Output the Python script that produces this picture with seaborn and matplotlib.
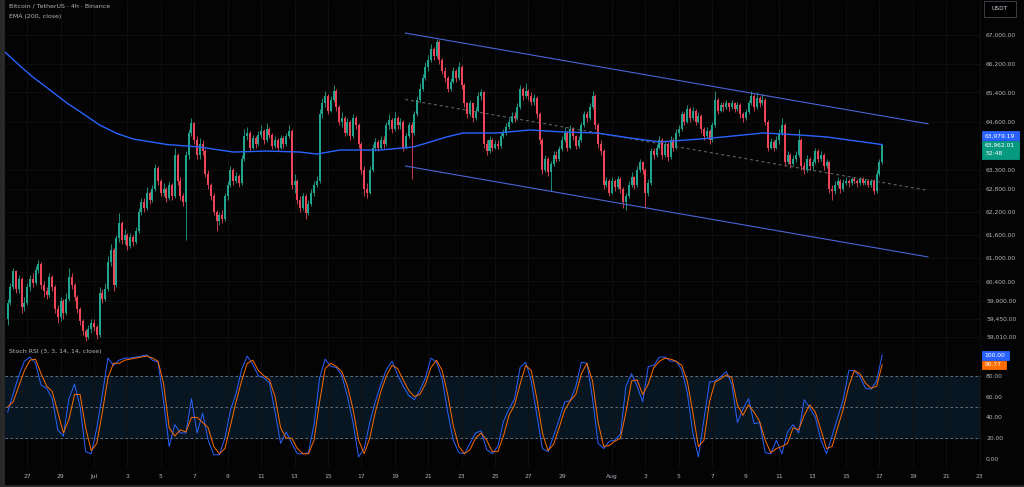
import numpy as np
import pandas as pd
import matplotlib
matplotlib.use("Agg")
import matplotlib.pyplot as plt
import matplotlib.dates as mdates
from matplotlib.ticker import FixedLocator, NullLocator, FuncFormatter
from matplotlib.patches import Rectangle
import seaborn as sns

# ---------------- data (BTC/USDT 4h) ----------------
first_time = "2024-06-25 20:00"
first_open = 59450

closes = [
    59850,
    60250, 60650, 60200, 60450, 59750, 59850,   # Jun 26
    60250, 60450, 60350, 60700, 60850, 60300,   # Jun 27
    60150, 60050, 60500, 60250, 59700, 59500,   # Jun 28
    59900, 59600, 59950, 60500, 60300, 60000,   # Jun 29
    59700, 59400, 59150, 59000, 59200, 59350,   # Jun 30
    59250, 59050, 60100, 59950, 60200, 60900,   # Jul 1
    61200, 60300, 61500, 61900, 61450, 61600,   # Jul 2
    61300, 61550, 61400, 61700, 62200, 62450,   # Jul 3
    62300, 62700, 62500, 62800, 63350, 63000,   # Jul 4
    62700, 62800, 62550, 62900, 62600, 63700,   # Jul 5
    63000, 62600, 62450, 63700, 64300, 64550,   # Jul 6
    64100, 63700, 64000, 63800, 63200, 62900,   # Jul 7
    62600, 62200, 61950, 62100, 62000, 62600,   # Jul 8
    62900, 63300, 63000, 63150, 62950, 63600,   # Jul 9
    64200, 64300, 63900, 64150, 64000, 64250,   # Jul 10
    64350, 64100, 64400, 64250, 63950, 64100,   # Jul 11
    63900, 64150, 64000, 64200, 64350, 62900,   # Jul 12
    63000, 62500, 62300, 62600, 62150, 62400,   # Jul 13
    62700, 62900, 63000, 64800, 65100, 65300,   # Jul 14
    64900, 65200, 65450, 65000, 64600, 64700,   # Jul 15
    64300, 64600, 64200, 64700, 64500, 64000,   # Jul 16
    63300, 62800, 62700, 63300, 63900, 64050,   # Jul 17
    63900, 64100, 64000, 64500, 64650, 64400,   # Jul 18
    64700, 64500, 64600, 63900, 64200, 64500,   # Jul 19
    64300, 64800, 65200, 65500, 65800, 66100,   # Jul 20
    66300, 66600, 66400, 66800, 66300, 66000,   # Jul 21
    65800, 65500, 65700, 66000, 65800, 66100,   # Jul 22
    65600, 65100, 64800, 65100, 64700, 64900,   # Jul 23
    65300, 65400, 64000, 63800, 64100, 63900,   # Jul 24
    64000, 63950, 64200, 64300, 64450, 64600,   # Jul 25
    64750, 64700, 65000, 65500, 65300, 65450,   # Jul 26
    65300, 65150, 65250, 64800, 64100, 63300,   # Jul 27
    63600, 63250, 63450, 63700, 63600, 63850,   # Jul 28
    64100, 64300, 63900, 64400, 64200, 63950,   # Jul 29
    64100, 64500, 64800, 64700, 65000, 65300,   # Jul 30
    64500, 64000, 63800, 62900, 63000, 62700,   # Jul 31
    63000, 62850, 63050, 62800, 62450, 62600,   # Aug 1
    62900, 63100, 62900, 63300, 63500, 63300,   # Aug 2
    62700, 62950, 63800, 63700, 63900, 64100,   # Aug 3
    63700, 64000, 63650, 64100, 63900, 64300,   # Aug 4
    64400, 64800, 64600, 64950, 64700, 64900,   # Aug 5
    64600, 64750, 64400, 64200, 64350, 64100,   # Aug 6
    64500, 65200, 64900, 65050, 65000, 65100,   # Aug 7
    65000, 65100, 64950, 65050, 64800, 64700,   # Aug 8
    64850, 65100, 65300, 65000, 65250, 65100,   # Aug 9
    65200, 64600, 63900, 64050, 63900, 64100,   # Aug 10
    64300, 64500, 63500, 63700, 63450, 63600,   # Aug 11
    63700, 64100, 63400, 63300, 63600, 63400,   # Aug 12
    63500, 63800, 63600, 63700, 63400, 63500,   # Aug 13
    62800, 62750, 62900, 63000, 62800, 62950,   # Aug 14
    63000, 62950, 63050, 63000, 62950, 63050,   # Aug 15
    62950, 63000, 62900, 63000, 62750, 63200,   # Aug 16
    63500, 63962.01,                            # Aug 17
]

highs = [
    59950,
    60350, 60750, 60700, 60550, 60500, 60000,
    60350, 60550, 60600, 60800, 60950, 60900,
    60400, 60250, 60600, 60550, 60300, 59800,
    60000, 59950, 60100, 60750, 60600, 60350,
    60050, 59750, 59450, 59200, 59300, 59450,
    59450, 59300, 60250, 60200, 60350, 61050,
    61350, 61250, 61600, 62150, 61950, 61750,
    61650, 61650, 61600, 61800, 62300, 62550,
    62550, 62850, 62750, 62900, 63470, 63400,
    63050, 62950, 62850, 63000, 62950, 63900,
    63750, 63100, 62700, 63800, 64400, 64700,
    64600, 64200, 64150, 64100, 63850, 63300,
    62950, 62700, 62250, 62200, 62250, 62700,
    63000, 63400, 63350, 63250, 63200, 63700,
    64400, 64450, 64350, 64250, 64200, 64350,
    64500, 64400, 64550, 64450, 64300, 64200,
    64150, 64250, 64200, 64300, 64500, 64400,
    63200, 63050, 62600, 62700, 62650, 62500,
    62800, 63000, 63150, 64950, 65250, 65450,
    65350, 65300, 65600, 65500, 65050, 64850,
    64750, 64700, 64650, 64800, 64750, 64550,
    64050, 63400, 62950, 63400, 64000, 64150,
    64100, 64200, 64200, 64600, 64800, 64700,
    64850, 64750, 64700, 64650, 64300, 64600,
    64600, 64900, 65300, 65650, 65900, 66250,
    66450, 66750, 66650, 66900, 66850, 66350,
    66100, 65850, 65800, 66100, 66050, 66250,
    66150, 65650, 65150, 65200, 65150, 65000,
    65400, 65500, 65450, 64100, 64200, 64150,
    64100, 64100, 64300, 64400, 64550, 64700,
    64850, 64850, 65100, 65600, 65550, 65650,
    65500, 65400, 65350, 65300, 64850, 64150,
    63700, 63650, 63550, 63800, 63800, 63950,
    64200, 64450, 64350, 64500, 64450, 64250,
    64200, 64600, 64900, 64900, 65100, 65450,
    65350, 64550, 64100, 63850, 63100, 63050,
    63100, 63050, 63150, 63100, 62850, 62700,
    63000, 63250, 63150, 63400, 63600, 63550,
    63350, 63050, 63900, 63900, 64000, 64200,
    64150, 64100, 64050, 64200, 64150, 64400,
    64500, 64900, 64850, 65050, 65000, 65000,
    64950, 64850, 64800, 64450, 64450, 64400,
    64600, 65430, 65250, 65150, 65150, 65200,
    65150, 65200, 65150, 65150, 65100, 64850,
    64950, 65200, 65450, 65350, 65400, 65300,
    65350, 65250, 64650, 64150, 64100, 64200,
    64400, 64700, 64550, 63800, 63750, 63700,
    63800, 64400, 64150, 63500, 63700, 63650,
    63600, 63900, 63850, 63800, 63750, 63600,
    63550, 62900, 63000, 63100, 63050, 63050,
    63100, 63050, 63100, 63100, 63050, 63100,
    63100, 63050, 63050, 63050, 63050, 63300,
    63600, 64000,
]

lows = [
    59300,
    59800, 60200, 60100, 60100, 59600, 59650,
    59800, 60150, 60250, 60300, 60600, 60200,
    60000, 59950, 60000, 60150, 59600, 59350,
    59400, 59450, 59550, 59900, 60200, 59900,
    59600, 59300, 59050, 58900, 58950, 59100,
    59150, 58950, 59000, 59850, 59900, 60150,
    60800, 60150, 60250, 61400, 61350, 61350,
    61200, 61250, 61300, 61350, 61650, 62100,
    62200, 62250, 62400, 62450, 62750, 62900,
    62600, 62600, 62450, 62500, 62500, 62550,
    62900, 62500, 62350, 61450, 63600, 64200,
    64000, 63600, 63600, 63700, 63100, 62800,
    62500, 62100, 61700, 61850, 61900, 61950,
    62500, 62850, 62900, 62950, 62850, 62900,
    63550, 64100, 63800, 63850, 63900, 63950,
    64150, 64000, 64050, 64150, 63850, 63900,
    63800, 63850, 63900, 63950, 64150, 62800,
    62700, 62400, 62200, 62250, 62000, 62100,
    62350, 62600, 62850, 62950, 64700, 65000,
    64800, 64850, 65150, 64900, 64500, 64450,
    64200, 64250, 64100, 64150, 64400, 63900,
    63200, 62600, 62550, 62650, 63250, 63800,
    63800, 63850, 63900, 63950, 64400, 64300,
    64350, 64400, 64400, 63800, 63850, 64150,
    63050, 64250, 64750, 65150, 65450, 65750,
    66000, 66250, 66300, 66350, 66200, 65900,
    65700, 65400, 65450, 65650, 65700, 65750,
    65500, 65000, 64700, 64750, 64600, 64650,
    64850, 65200, 63900, 63700, 63750, 63800,
    63850, 63850, 63900, 64150, 64250, 64400,
    64550, 64600, 64650, 64950, 65200, 65250,
    65200, 65050, 65050, 64700, 64000, 63200,
    63250, 63150, 62750, 63400, 63500, 63550,
    63800, 64050, 63800, 63850, 64100, 63850,
    63900, 64050, 64450, 64600, 64650, 64950,
    64400, 63900, 63700, 62800, 62850, 62600,
    62650, 62750, 62800, 62700, 62300, 62250,
    62550, 62850, 62800, 62850, 63250, 63200,
    62300, 62600, 62900, 63600, 63650, 63850,
    63600, 63650, 63550, 63600, 63800, 63850,
    64200, 64350, 64500, 64550, 64600, 64650,
    64500, 64550, 64300, 64100, 64150, 64000,
    64050, 64450, 64800, 64850, 64900, 64950,
    64900, 64950, 64850, 64900, 64700, 64600,
    64650, 64800, 65050, 64900, 64950, 65000,
    65050, 64500, 63800, 63850, 63800, 63850,
    64000, 64250, 63400, 63450, 63350, 63400,
    63500, 63650, 63300, 63200, 63250, 63300,
    63300, 63450, 63500, 63550, 63300, 63350,
    62700, 62500, 62650, 62850, 62700, 62750,
    62900, 62850, 62900, 62950, 62850, 62900,
    62900, 62900, 62850, 62850, 62650, 62700,
    63150, 63450,
]

# Stoch RSI, one reading every second candle
stoch_k = [
    45, 63, 80, 94, 98, 92, 71, 68, 58, 28, 22, 58, 72, 50, 7, 5,
    30, 62, 97, 90, 95, 97, 97, 98, 99, 100, 95, 93, 55, 12, 33, 25,
    25, 58, 25, 44, 18, 4, 4, 20, 47, 63, 86, 99, 91, 80, 78, 73,
    45, 15, 26, 15, 5, 5, 6, 33, 78, 96, 89, 88, 80, 60, 35, 2,
    10, 35, 55, 72, 86, 94, 81, 70, 61, 57, 66, 78, 97, 93, 77, 45,
    18, 6, 5, 15, 25, 27, 9, 5, 12, 36, 48, 58, 88, 93, 75, 42,
    10, 7, 22, 38, 55, 56, 70, 93, 92, 58, 15, 10, 17, 18, 24, 70,
    82, 70, 55, 89, 90, 98, 98, 94, 94, 86, 64, 25, 2, 38, 74, 75,
    79, 84, 72, 35, 48, 58, 34, 35, 6, 5, 18, 5, 26, 33, 25, 57,
    49, 40, 18, 5, 22, 40, 57, 85, 85, 79, 68, 67, 75, 100,
]
stoch_d = [
    50, 55, 70, 85, 95, 96, 82, 70, 65, 45, 25, 38, 62, 62, 30, 8,
    15, 45, 78, 92, 92, 95, 96, 97, 98, 99, 97, 94, 72, 30, 22, 28,
    26, 40, 40, 35, 30, 12, 5, 10, 32, 55, 75, 92, 95, 85, 80, 76,
    60, 30, 20, 20, 10, 5, 5, 18, 55, 87, 92, 89, 84, 70, 48, 18,
    5, 20, 45, 65, 80, 90, 87, 76, 66, 60, 62, 72, 88, 95, 85, 62,
    32, 12, 5, 9, 20, 25, 18, 7, 7, 22, 42, 52, 72, 90, 85, 58,
    25, 8, 14, 30, 47, 56, 62, 82, 92, 75, 35, 12, 13, 17, 20, 45,
    75, 76, 62, 72, 88, 94, 97, 96, 94, 90, 75, 45, 12, 18, 55, 74,
    77, 81, 78, 52, 42, 52, 45, 36, 18, 6, 10, 12, 15, 30, 28, 42,
    52, 45, 28, 10, 12, 30, 48, 70, 85, 82, 73, 68, 70, 90.77,
]

# EMA 200 read at a few points
ema_times = [
    "2024-06-25 16:00", "2024-06-26 14:00", "2024-06-27 08:00", "2024-06-28 09:00",
    "2024-06-29 09:00", "2024-06-30 10:00", "2024-07-01 08:00", "2024-07-02 09:00",
    "2024-07-03 08:00", "2024-07-05 09:00", "2024-07-07 08:00", "2024-07-09 08:00",
    "2024-07-11 08:00", "2024-07-13 08:00", "2024-07-14 08:00", "2024-07-15 17:00",
    "2024-07-18 03:00", "2024-07-20 02:00", "2024-07-21 03:00", "2024-07-22 02:00",
    "2024-07-23 02:00", "2024-07-25 03:00", "2024-07-27 02:00", "2024-07-29 02:00",
    "2024-07-31 02:00", "2024-08-02 02:00", "2024-08-03 21:00", "2024-08-07 01:00",
    "2024-08-10 01:00", "2024-08-12 06:00", "2024-08-13 21:00", "2024-08-17 04:00",
]
ema_vals = [
    66522, 66131, 65826, 65466, 65109, 64794, 64508, 64278,
    64130, 63980, 63913, 63778, 63805, 63778, 63724, 63833,
    63833, 63913, 64049, 64183, 64292, 64292, 64373, 64319,
    64292, 64157, 64049, 64157, 64292, 64238, 64183, 63979.19,
]

# drawn parallel channel
channel_times = ["2024-07-19 15:00", "2024-08-19 22:00"]
channel_upper = [67056, 64540]
channel_mid = [65205, 62754]
channel_lower = [63405, 61022]

price_ticks = [67000, 66200, 65400, 64600, 63300, 62800, 62200,
               61600, 61000, 60400, 59900, 59450, 59010]
stoch_ticks = [0, 20, 40, 60, 80, 100]

tick_dates = ["2024-06-27", "2024-06-29", "2024-07-01", "2024-07-03", "2024-07-05",
              "2024-07-07", "2024-07-09", "2024-07-11", "2024-07-13", "2024-07-15",
              "2024-07-17", "2024-07-19", "2024-07-21", "2024-07-23", "2024-07-25",
              "2024-07-27", "2024-07-29", "2024-08-01", "2024-08-03", "2024-08-05",
              "2024-08-07", "2024-08-09", "2024-08-11", "2024-08-13", "2024-08-15",
              "2024-08-17", "2024-08-19", "2024-08-21", "2024-08-23"]
tick_labels = ["27", "29", "Jul", "3", "5", "7", "9", "11", "13", "15", "17", "19",
               "21", "23", "25", "27", "29", "Aug", "3", "5", "7", "9", "11", "13",
               "15", "17", "19", "21", "23"]

# ---------------- style ----------------
BG = "#040404"
TXT = "#b2b5be"
UP = "#22a38d"
DOWN = "#ec4558"
BLUE = "#2962ff"
ORANGE = "#ff6d00"
GRID = "#111111"

sns.set_theme(style="dark", rc={"axes.facecolor": BG, "figure.facecolor": BG,
                                "axes.edgecolor": BG, "grid.color": GRID})
plt.rcParams["font.family"] = ["DejaVu Sans"]

W, H = 1024, 487
fig = plt.figure(figsize=(W / 100, H / 100), dpi=100)


def fx(px):
    return px / W


def fy(py):
    return 1 - py / H


ax = fig.add_axes([fx(5), fy(343), fx(980.5) - fx(5), fy(0) - fy(343)])
ax2 = fig.add_axes([fx(5), fy(468), fx(980.5) - fx(5), fy(345) - fy(468)])

times = pd.date_range(first_time, periods=len(closes), freq="4h")
xt = mdates.date2num(times.to_pydatetime())
opens = [first_open] + closes[:-1]
col = [UP if c >= o else DOWN for o, c in zip(opens, closes)]
bottoms = [min(o, c) for o, c in zip(opens, closes)]
bodies = [abs(c - o) for o, c in zip(opens, closes)]

# ---------------- main pane ----------------
ax.set_yscale("log")
ax.vlines(xt, lows, highs, colors=col, linewidth=0.6, zorder=2)
ax.bar(xt, bodies, width=0.12, bottom=bottoms, color=col, linewidth=0, zorder=3)

ema_x = mdates.date2num(pd.to_datetime(ema_times).to_pydatetime())
sns.lineplot(x=ema_x, y=ema_vals, ax=ax, color=BLUE, linewidth=1.0, zorder=5)

ch_x = mdates.date2num(pd.to_datetime(channel_times).to_pydatetime())
sns.lineplot(x=ch_x, y=channel_upper, ax=ax, color="#4a64d6", linewidth=0.8, zorder=4)
sns.lineplot(x=ch_x, y=channel_lower, ax=ax, color="#4a64d6", linewidth=0.8, zorder=4)
ax.plot(ch_x, channel_mid, color="#6b6f7a", linewidth=0.7, dashes=(3, 3), zorder=4)

xlim = mdates.date2num(pd.to_datetime(["2024-06-25 16:10", "2024-08-23 01:10"]).to_pydatetime())
tick_x = mdates.date2num(pd.to_datetime(tick_dates).to_pydatetime())

ax.set_xlim(*xlim)
ax.set_ylim(58851, 67995)
ax.yaxis.set_major_locator(FixedLocator(price_ticks))
ax.yaxis.set_minor_locator(NullLocator())
ax.yaxis.set_major_formatter(FuncFormatter(lambda v, p: f"{v:,.2f}"))
ax.yaxis.tick_right()
ax.set_xticks(tick_x)
ax.set_xticklabels([])
ax.tick_params(axis="y", length=0, pad=4, labelsize=4.3, colors=TXT)
ax.tick_params(axis="x", length=0)
ax.grid(True, color=GRID, linewidth=0.6)
ax.set_xlabel("")
ax.set_ylabel("")
for s in ax.spines.values():
    s.set_visible(False)

# ---------------- stoch rsi pane ----------------
sx = xt[::2]
ax2.axhspan(20, 80, color="#081621", zorder=0)
for lvl in (80, 50, 20):
    ax2.axhline(lvl, color="#787b86", linewidth=0.6, dashes=(3, 3), zorder=1)
sns.lineplot(x=sx, y=stoch_k, ax=ax2, color=BLUE, linewidth=0.7, zorder=3)
sns.lineplot(x=sx, y=stoch_d, ax=ax2, color=ORANGE, linewidth=0.7, zorder=4)

ax2.set_xlim(*xlim)
ax2.set_ylim(-8.7, 109.6)
ax2.yaxis.tick_right()
ax2.set_yticks(stoch_ticks)
ax2.set_yticklabels([f"{v:.2f}" for v in stoch_ticks])
ax2.set_xticks(tick_x)
ax2.set_xticklabels(tick_labels)
ax2.tick_params(axis="y", length=0, pad=4, labelsize=4.3, colors=TXT)
ax2.tick_params(axis="x", length=0, pad=4, labelsize=4.3, colors=TXT)
ax2.grid(True, axis="x", color=GRID, linewidth=0.6)
ax2.grid(False, axis="y")
ax2.set_xlabel("")
ax2.set_ylabel("")
for s in ax2.spines.values():
    s.set_visible(False)

# ---------------- header texts, tags, frame ----------------
fig.text(fx(9), fy(6.5), "Bitcoin / TetherUS · 4h · Binance", color=TXT,
         fontsize=4.5, va="center", ha="left")
fig.text(fx(9), fy(16.5), "EMA (200, close)", color=TXT, fontsize=4.5,
         va="center", ha="left")
fig.text(fx(9), fy(351), "Stoch RSI (3, 3, 14, 14, close)", color=TXT,
         fontsize=4.5, va="center", ha="left")


def tag(x0, y0, x1, y1, face, edge=None):
    fig.patches.append(Rectangle((fx(x0), fy(y1)), fx(x1) - fx(x0), fy(y0) - fy(y1),
                                 transform=fig.transFigure, facecolor=face,
                                 edgecolor=edge if edge else face, linewidth=0.6,
                                 zorder=6))


tag(982, 131.5, 1019, 140.5, BLUE)
fig.text(fx(985), fy(136), "63,979.19", color="white", fontsize=4.3, va="center", zorder=7)
tag(982, 141, 1019, 158.5, "#089981")
fig.text(fx(985), fy(145.3), "63,962.01", color="white", fontsize=4.3, va="center", zorder=7)
fig.text(fx(985), fy(153.5), "52:48", color="white", fontsize=4.3, va="center", zorder=7)

tag(982, 351, 1009, 359.5, BLUE)
fig.text(fx(984.5), fy(355.2), "100.00", color="white", fontsize=4.3, va="center", zorder=7)
tag(982, 360.5, 1006, 369, ORANGE)
fig.text(fx(984.5), fy(364.7), "90.77", color="white", fontsize=4.3, va="center", zorder=7)

tag(984, 1.5, 1016, 16.5, "#000000", edge="#434651")
fig.text(fx(1000), fy(9), "USDT", color="#d1d4dc", fontsize=4.3, va="center",
         ha="center", zorder=7)

tag(0, 0, 4, 487, "#2a2a2a")
tag(0, 485, 1024, 487, "#2a2a2a")

fig.savefig("out.png", dpi=100, facecolor=BG)
